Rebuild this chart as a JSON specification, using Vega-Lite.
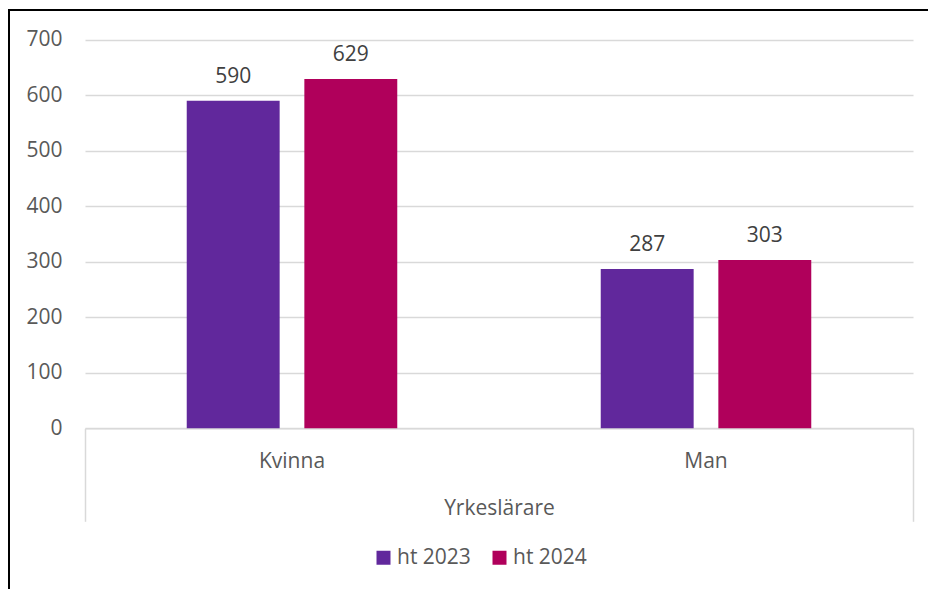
{
  "$schema": "https://vega.github.io/schema/vega-lite/v6.json",
  "width": 919,
  "height": 579,
  "autosize": {"type": "none"},
  "padding": {"left": 9, "top": 10, "right": 0, "bottom": 0},
  "background": "white",
  "config": {
    "font": "Open Sans",
    "view": {"stroke": "#000000", "strokeWidth": 2, "strokeDash": [919, 1498, 620]}
  },
  "data": {
    "values": [
      {"gender": "Kvinna", "year": "ht 2023", "value": 590, "group": "Yrkeslärare"},
      {"gender": "Kvinna", "year": "ht 2024", "value": 629, "group": "Yrkeslärare"},
      {"gender": "Man", "year": "ht 2023", "value": 287, "group": "Yrkeslärare"},
      {"gender": "Man", "year": "ht 2024", "value": 303, "group": "Yrkeslärare"}
    ]
  },
  "layer": [
    {
      "encoding": {
        "x": {
          "field": "gender", "type": "nominal", "sort": ["Kvinna", "Man"],
          "scale": {"range": [76, 904], "paddingInner": 0, "paddingOuter": 0},
          "axis": {
            "orient": "bottom", "offset": -160.7, "title": null, "grid": false,
            "domainColor": "#d9d9d9", "domainWidth": 1.5,
            "ticks": false, "tickSize": 0, "labelPadding": 22, "labelAngle": 0,
            "labelFontSize": 21, "labelColor": "#595959"
          }
        },
        "xOffset": {
          "field": "year", "type": "nominal", "sort": ["ht 2023", "ht 2024"],
          "scale": {"paddingInner": 0.21, "paddingOuter": 0.865}
        },
        "y": {
          "field": "value", "type": "quantitative",
          "scale": {"domain": [0, 700], "range": [418.3, 29.7], "nice": false, "zero": true},
          "axis": {
            "orient": "left", "offset": -76, "title": null,
            "values": [0, 100, 200, 300, 400, 500, 600, 700],
            "domain": false, "ticks": false, "tickSize": 0, "labelPadding": 23,
            "labelFontSize": 21, "labelColor": "#595959",
            "grid": true, "gridColor": "#d9d9d9", "gridWidth": 1.5
          }
        }
      },
      "layer": [
        {
          "mark": {"type": "bar"},
          "encoding": {
            "color": {
              "field": "year", "type": "nominal",
              "scale": {"domain": ["ht 2023", "ht 2024"], "range": ["#61289c", "#b0005b"]},
              "legend": {
                "title": null, "orient": "none", "direction": "horizontal",
                "legendX": 364, "legendY": 537, "padding": 0,
                "symbolType": "square", "symbolSize": 196, "symbolStrokeWidth": 0,
                "labelFontSize": 21, "labelColor": "#595959", "labelOffset": 3,
                "columnPadding": 18
              }
            }
          }
        },
        {
          "mark": {"type": "text", "dy": -18, "baseline": "alphabetic", "fontSize": 21, "color": "#404040"},
          "encoding": {
            "text": {"field": "value", "type": "quantitative"}
          }
        }
      ]
    },
    {
      "mark": {"type": "point", "opacity": 0},
      "encoding": {
        "x": {
          "field": "group", "type": "nominal",
          "scale": {"range": [76, 904], "paddingInner": 0, "paddingOuter": 0},
          "axis": {
            "orient": "bottom", "offset": -160.7, "title": null, "grid": false,
            "domain": false, "tickBand": "extent", "ticks": true, "tickSize": 93,
            "tickColor": "#d9d9d9", "tickWidth": 1.5, "labelPadding": -24,
            "labelAngle": 0, "labelFontSize": 21, "labelColor": "#595959"
          }
        }
      }
    }
  ],
  "resolve": {"scale": {"x": "independent"}, "axis": {"x": "independent"}}
}
